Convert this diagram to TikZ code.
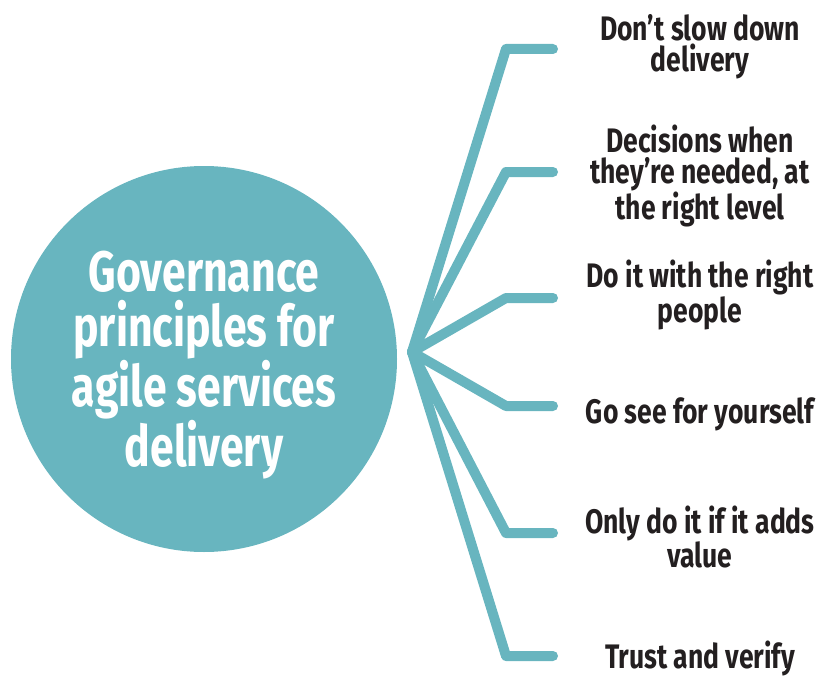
\documentclass[tikz,border=0pt]{standalone}
\usepackage{fontspec}
\setmainfont{Fira Sans}[FakeStretch=0.78]
\newfontfamily\circfont{Fira Sans}[FakeStretch=0.75]
\definecolor{tealc}{RGB}{104,181,191}
\definecolor{inkc}{RGB}{35,31,32}
\tikzset{
  branch/.style={draw=tealc, line width=10pt, line cap=round, line join=round},
  label/.style={font=\bfseries\fontsize{34}{31}\selectfont, text=inkc, align=center, inner sep=0pt},
}
\begin{document}
\begin{tikzpicture}[x=1pt,y=-1pt]
\useasboundingbox (0,0) rectangle (819,677);
\node[circle, fill=tealc, minimum size=386pt, inner sep=0pt] (c) at (204,359) {};
\node[font=\circfont\bfseries\fontsize{57}{55}\selectfont, text=white, align=center, inner sep=0pt] (ct) at (204,365) {Governance\\principles for\\agile services\\delivery};
\coordinate (hub) at (412,352);
\coordinate (k1) at (506,49);  \coordinate (e1) at (553,49);
\coordinate (k2) at (506,172); \coordinate (e2) at (553,172);
\coordinate (k3) at (506,298); \coordinate (e3) at (553,298);
\coordinate (k4) at (506,406); \coordinate (e4) at (553,406);
\coordinate (k5) at (506,533); \coordinate (e5) at (553,533);
\coordinate (k6) at (506,656); \coordinate (e6) at (553,656);
\foreach \i in {1,...,6} {\path[branch] (hub) -- (k\i) -- (e\i);}
\node[label] (t1) at (700,47) {Don’t slow down\\delivery};
\node[label] (t2) at (700,176) {Decisions when\\they’re needed, at\\the right level};
\node[label] (t3) at (700,295) {Do it with the right\\people};
\node[label] (t4) at (700,414) {Go see for yourself};
\node[label] (t5) at (700,537) {Only do it if it adds\\value};
\node[label] (t6) at (700,658) {Trust and verify};
\end{tikzpicture}
\end{document}
